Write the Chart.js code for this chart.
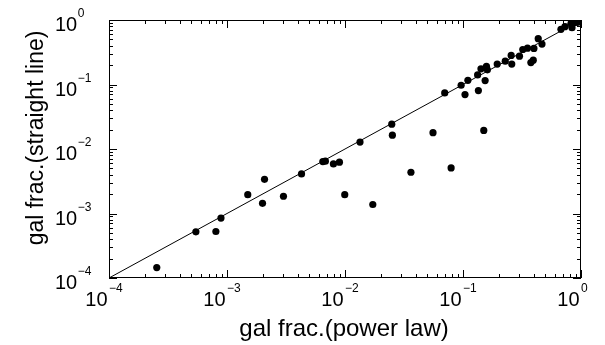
<!DOCTYPE html>
<html>
<head>
<meta charset="utf-8">
<script src="https://cdn.jsdelivr.net/npm/chart.js@4/dist/chart.umd.min.js"></script>
<style>
html,body{margin:0;padding:0;background:#fff;}
#wrap{width:605px;height:345px;}
</style>
</head>
<body>
<div id="wrap"><canvas id="c" width="605" height="345"></canvas></div>
<script>
// ---- data ----
const xValues = [2.54e-4,5.45e-4,8.05e-4,8.89e-4,1.50e-3,2.00e-3,2.08e-3,3.01e-3,4.28e-3,6.49e-3,
  6.82e-3,7.98e-3,8.97e-3,9.95e-3,1.34e-2,1.72e-2,3.62e-2,7.93e-2,2.49e-2,2.52e-2,
  5.57e-2,0.150,7.00e-2,9.64e-2,0.104,0.110,0.133,0.135,0.142,0.154,
  0.158,0.161,0.195,0.228,0.256,0.259,0.301,0.321,0.352,0.376,
  0.394,0.399,0.434,0.467,0.676,0.731,0.822,0.839,0.877,0.938];
const yValues = [1.45e-4,5.20e-4,5.26e-4,8.49e-4,1.96e-3,1.44e-3,3.39e-3,1.85e-3,4.11e-3,6.38e-3,
  6.47e-3,5.87e-3,6.24e-3,1.96e-3,1.28e-2,1.38e-3,4.36e-3,5.09e-3,2.43e-2,1.64e-2,
  1.79e-2,1.94e-2,7.40e-2,9.73e-2,6.97e-2,0.116,0.141,8.04e-2,0.175,0.115,
  0.192,0.169,0.207,0.230,0.282,0.207,0.275,0.349,0.366,0.219,
  0.238,0.362,0.513,0.423,0.716,0.787,0.887,0.760,0.908,0.920];
const lineX = [1e-4, 1];
const lineY = [1e-4, 1];
const tickValues = [1e-4, 1e-3, 1e-2, 1e-1, 1];
const tickBases = ["10", "10", "10", "10", "10"];
const tickExps = ["\u22124", "\u22123", "\u22122", "\u22121", "0"];
const xTitle = "gal frac.(power law)";
const yTitle = "gal frac.(straight line)";

const FONT = '"Liberation Sans", Arial, Helvetica, sans-serif';

const axesPlugin = {
  id: 'matlabAxes',
  afterDraw(chart) {
    const ctx = chart.ctx;
    const a = chart.chartArea;
    const xs = chart.scales.x, ys = chart.scales.y;
    ctx.save();
    ctx.strokeStyle = '#000';
    ctx.lineWidth = 1;
    // box
    ctx.strokeRect(Math.round(a.left) + 0.5, Math.round(a.top) + 0.5,
                   Math.round(a.right - a.left) - 1, Math.round(a.bottom - a.top) - 1);
    // ticks (inward on all sides)
    ctx.beginPath();
    for (let d = 0; d < tickValues.length; d++) {
      for (let m = 1; m <= 9; m++) {
        const v = tickValues[d] * m;
        if (v > 1.0000001) break;
        const major = (m === 1);
        const lenX = major ? 8 : 4;
        const px = Math.round(xs.getPixelForValue(v)) + 0.5;
        ctx.moveTo(px, a.bottom); ctx.lineTo(px, a.bottom - lenX);
        ctx.moveTo(px, a.top); ctx.lineTo(px, a.top + lenX);
        const py = Math.round(ys.getPixelForValue(v)) + 0.5;
        ctx.moveTo(a.left, py); ctx.lineTo(a.left + lenX, py);
        ctx.moveTo(a.right, py); ctx.lineTo(a.right - lenX, py);
      }
    }
    ctx.stroke();
    // tick labels
    ctx.fillStyle = '#000';
    ctx.textBaseline = 'alphabetic';
    for (let i = 0; i < tickValues.length; i++) {
      const px = xs.getPixelForValue(tickValues[i]);
      ctx.font = '20px ' + FONT;
      ctx.textAlign = 'right';
      ctx.fillText(tickBases[i], px - 1.5, a.bottom + 28);
      ctx.font = '12px ' + FONT;
      ctx.textAlign = 'left';
      ctx.fillText(tickExps[i], px, a.bottom + 14);

      const py = ys.getPixelForValue(tickValues[i]);
      ctx.font = '20px ' + FONT;
      ctx.textAlign = 'left';
      ctx.fillText(tickBases[i], 55, py + 11);
      const w = ctx.measureText(tickBases[i]).width;
      ctx.font = '12px ' + FONT;
      ctx.fillText(tickExps[i], 55 + w + 0.5, py - 3);
    }
    // axis titles
    ctx.textAlign = 'center';
    ctx.font = '24px ' + FONT;
    ctx.fillText(xTitle, (a.left + a.right) / 2 - 1, 336);
    ctx.save();
    ctx.font = '23px ' + FONT;
    ctx.translate(43, 138);
    ctx.rotate(-Math.PI / 2);
    ctx.fillText(yTitle, 0, 0);
    ctx.restore();
    ctx.restore();
  }
};

new Chart(document.getElementById('c'), {
  type: 'scatter',
  data: {
    datasets: [
      {
        type: 'line',
        data: lineX.map((x, i) => ({x: x, y: lineY[i]})),
        borderColor: '#000',
        borderWidth: 1,
        pointRadius: 0,
        fill: false,
        order: 2
      },
      {
        data: xValues.map((x, i) => ({x: x, y: yValues[i]})),
        backgroundColor: '#000',
        borderColor: '#000',
        borderWidth: 0,
        pointRadius: 3.6,
        order: 1
      }
    ]
  },
  options: {
    responsive: false,
    animation: false,
    devicePixelRatio: 1,
    layout: { padding: { left: 109, right: 24, top: 20, bottom: 67 } },
    plugins: { legend: { display: false }, tooltip: { enabled: false } },
    scales: {
      x: { type: 'logarithmic', min: 1e-4, max: 1, display: false },
      y: { type: 'logarithmic', min: 1e-4, max: 1, display: false }
    }
  },
  plugins: [axesPlugin]
});
</script>
</body>
</html>
